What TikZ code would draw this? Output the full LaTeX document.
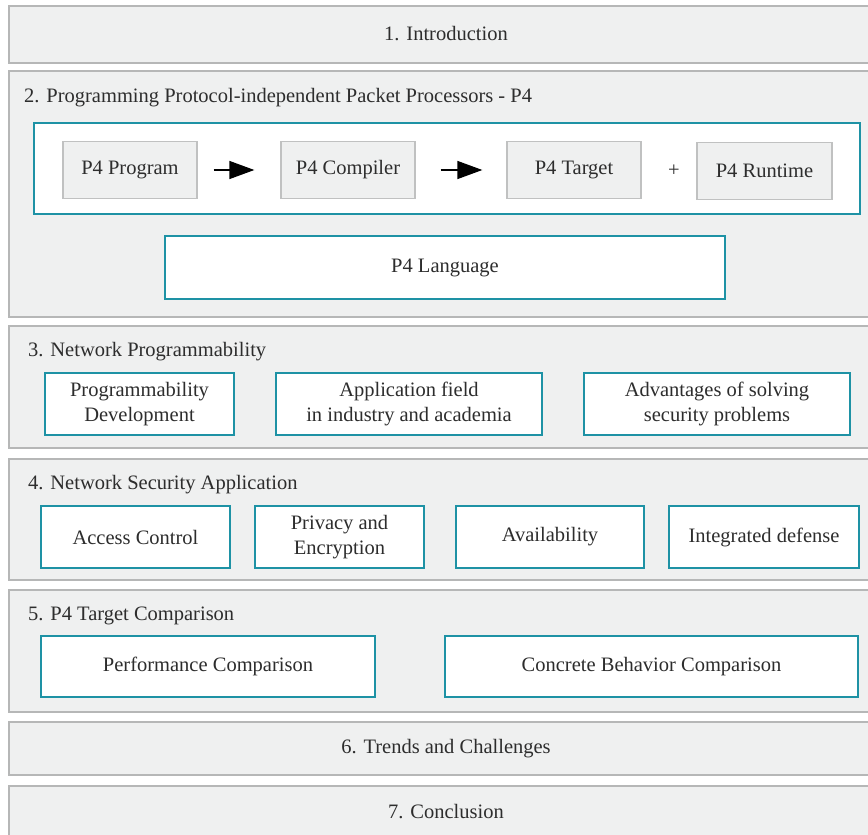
\documentclass[tikz,border=0pt]{standalone}
\usepackage{fontspec}
\setmainfont{Liberation Serif}
\usetikzlibrary{arrows.meta}
\definecolor{pfill}{RGB}{239,240,240}
\definecolor{pline}{RGB}{182,183,183}
\definecolor{gline}{RGB}{192,193,193}
\definecolor{tealb}{RGB}{30,146,165}
\definecolor{txt}{RGB}{45,45,45}
\begin{document}
\begin{tikzpicture}[x=1pt,y=-1pt,
  every node/.style={font=\fontsize{20.5}{25}\selectfont, text=txt, inner sep=0pt},
  panel/.style={draw=pline, fill=pfill, line width=1.4pt, minimum width=866pt},
  tbox/.style={draw=tealb, fill=white, line width=1.3pt, align=center},
  gbox/.style={draw=gline, fill=pfill, line width=1.3pt, minimum width=134pt, minimum height=57pt},
  arr/.style={line width=1.4pt, draw=black, -{Triangle[length=25pt,width=18pt]}}]
\useasboundingbox (0,0) rectangle (868,835);
\clip (0,0) rectangle (868,835);
% panels
\node[panel, minimum height=57pt] (p1) at (442,34.5) {};
\node[panel, minimum height=246pt] (p2) at (442,194) {};
\node[panel, minimum height=122pt] (p3) at (442,387) {};
\node[panel, minimum height=121pt] (p4) at (442,519.5) {};
\node[panel, minimum height=122pt] (p5) at (442,651) {};
\node[panel, minimum height=53pt] (p6) at (442,748.5) {};
\node[panel, minimum height=59pt] (p7) at (442,815.5) {};
% panel texts
\node (t1) at (446,34) {1. Introduction};
\node[anchor=base west] (t2) at (24,102) {2. Programming Protocol-independent Packet Processors - P4};
\node[anchor=base west] (t3) at (28,356) {3. Network Programmability};
\node[anchor=base west] (t4) at (28,489) {4. Network Security Application};
\node[anchor=base west] (t5) at (28,620) {5. P4 Target Comparison};
\node (t6) at (446,748.5) {6. Trends and Challenges};
\node (t7) at (446,812) {7. Conclusion};
% section 2
\node[tbox, minimum width=826pt, minimum height=91pt] (row) at (447,168.5) {};
\node[gbox] (prog) at (130,170) {P4 Program};
\node[gbox] (comp) at (348,170) {P4 Compiler};
\node[gbox] (targ) at (574,170) {P4 Target};
\node[gbox, minimum width=135pt] (rt) at (764.5,171) {P4 Runtime};
\node (plus) at (674,171) {+};
\draw[arr] ([xshift=16pt]prog.east) -- ([xshift=-26pt]comp.west);
\draw[arr] ([xshift=25pt]comp.east) -- ([xshift=-24pt]targ.west);
\node[tbox, minimum width=560pt, minimum height=63pt] (lang) at (445,267.5) {P4 Language};
% section 3
\node[tbox, minimum width=189pt, minimum height=62pt] (s31) at (139.5,404) {Programmability\\Development};
\node[tbox, minimum width=266pt, minimum height=62pt] (s32) at (409,404) {Application field\\in industry and academia};
\node[tbox, minimum width=266pt, minimum height=62pt] (s33) at (717,404) {Advantages of solving\\security problems};
% section 4
\node[tbox, minimum width=189pt, minimum height=62pt] (s41) at (135.5,537) {Access Control};
\node[tbox, minimum width=169pt, minimum height=62pt] (s42) at (339.5,537) {Privacy and\\Encryption};
\node[tbox, minimum width=188pt, minimum height=62pt] (s43) at (550,537) {Availability};
\node[tbox, minimum width=190pt, minimum height=62pt] (s44) at (764,537) {Integrated defense};
% section 5
\node[tbox, minimum width=334pt, minimum height=61pt] (s51) at (208,666.5) {Performance Comparison};
\node[tbox, minimum width=413pt, minimum height=61pt] (s52) at (651.5,666.5) {Concrete Behavior Comparison};
\end{tikzpicture}
\end{document}
